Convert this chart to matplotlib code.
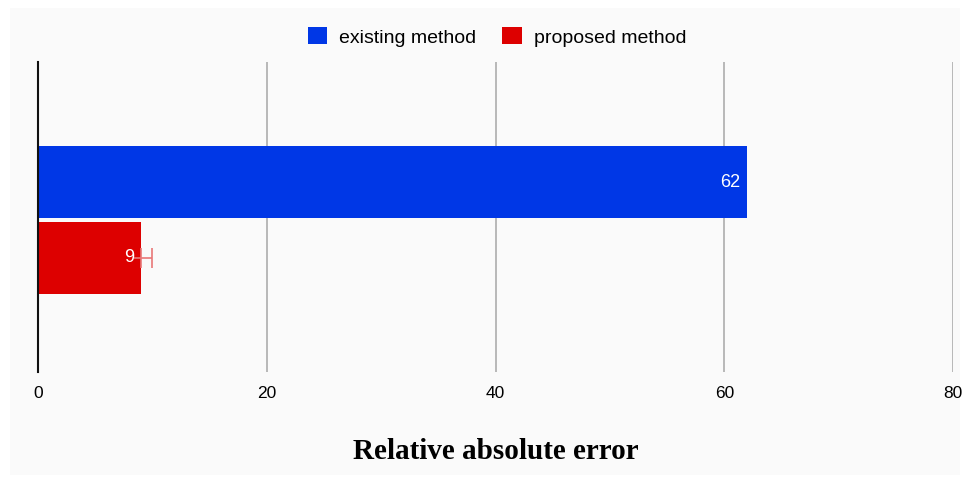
import matplotlib
matplotlib.use("Agg")
import matplotlib.pyplot as plt
from matplotlib.patches import Rectangle

series = ["existing method", "proposed method"]
values = [62, 9]
errors = [None, 1]
colors = ["#0037e6", "#dd0000"]
xticks = [0, 20, 40, 60, 80]
xlabel = "Relative absolute error"

fig = plt.figure(figsize=(9.69, 4.78), dpi=100)
fig.patch.set_facecolor("white")
fig.patches.append(Rectangle((10/969, 3/478), 950/969, 467/478, transform=fig.transFigure,
                             facecolor="#fafafa", edgecolor="none", zorder=-10))

ax = fig.add_axes([38/969, 1-372/478, (953-38)/969, (372-62)/478])
ax.patch.set_alpha(0)

bar_h = 0.245
offsets = [0.143, -0.113]
for name, v, e, c, off in zip(series, values, errors, colors, offsets):
    ax.barh(off, v, height=bar_h, color=c, label=name, zorder=3)
    if e is not None:
        ax.errorbar(v, off, xerr=[[0], [e]], fmt="none", ecolor="#e87878",
                    elinewidth=1.2, capsize=7, capthick=1.2, zorder=4)
        ax.errorbar(v, off, xerr=[[0.6], [0]], fmt="none", ecolor="#e87878",
                    elinewidth=1.2, capsize=0, zorder=4)
    ax.text(v - 0.6, off, str(v), ha="right", va="center", color="white",
            fontsize=13, family="Liberation Sans", zorder=5)

ax.set_xlim(0, 80)
ax.set_ylim(-0.5, 0.55)
ax.set_xticks(xticks)
ax.set_xticklabels([str(t) for t in xticks], fontsize=12.5, family="Liberation Sans")
ax.set_yticks([])
ax.tick_params(axis="x", length=0, pad=10)
ax.grid(axis="x", color="#b3b3b3", linewidth=1.3, zorder=0)
for s in ["top", "right", "bottom"]:
    ax.spines[s].set_visible(False)
ax.spines["left"].set_color("#111111")
ax.spines["left"].set_linewidth(1.5)
ax.spines["left"].set_zorder(6)

ax.set_xlabel(xlabel, fontsize=21, fontweight="bold", family="Liberation Serif", labelpad=27)

leg = fig.legend(loc="center", bbox_to_anchor=(497/969, 1-37/478), ncol=2, frameon=False,
                 prop={"family": "Liberation Sans", "size": 14}, handlelength=1.0,
                 handleheight=0.95, columnspacing=1.35, handletextpad=0.6)

fig.savefig("out.png", dpi=100, facecolor=fig.get_facecolor())
